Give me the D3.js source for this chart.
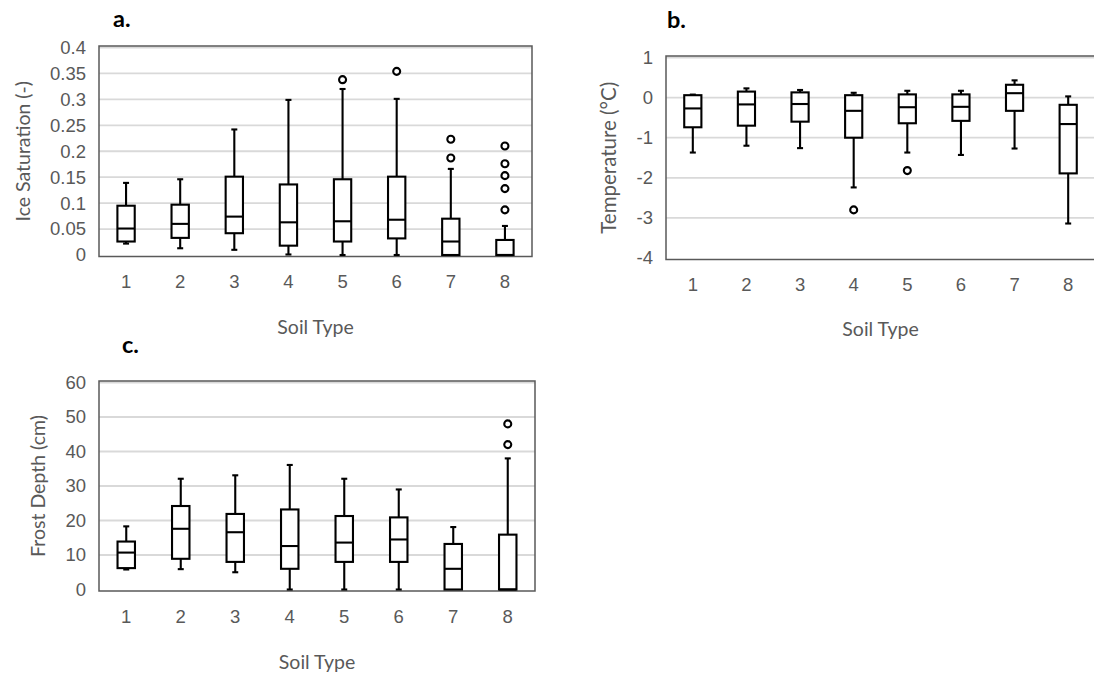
<!DOCTYPE html>
<html>
<head>
<meta charset="utf-8">
<script src="https://cdn.jsdelivr.net/npm/d3@7"></script>
<style>
  body { margin: 0; background: #fff; }
  svg { display: block; font-family: Lato, "Open Sans", sans-serif; }
</style>
</head>
<body>
<div id="chart"></div>
<script>
var soilTypes = ["1", "2", "3", "4", "5", "6", "7", "8"];

// a. ice saturation
var iceTicks = [0, 0.05, 0.1, 0.15, 0.2, 0.25, 0.3, 0.35, 0.4];
var iceMin = [0.022, 0.013, 0.010, 0.001, 0, 0, 0, 0];
var iceQ1  = [0.026, 0.033, 0.042, 0.018, 0.026, 0.032, 0, 0];
var iceMed = [0.051, 0.060, 0.074, 0.063, 0.065, 0.068, 0.026, 0];
var iceQ3  = [0.095, 0.097, 0.151, 0.136, 0.146, 0.151, 0.070, 0.029];
var iceMax = [0.139, 0.146, 0.242, 0.299, 0.320, 0.301, 0.166, 0.056];
var iceOut = [[], [], [], [], [0.338], [0.354], [0.223, 0.187], [0.210, 0.176, 0.153, 0.128, 0.087]];

// b. temperature
var tempTicks = [-4, -3, -2, -1, 0, 1];
var tempMin = [-1.37, -1.20, -1.26, -2.24, -1.37, -1.43, -1.27, -3.14];
var tempQ1  = [-0.74, -0.70, -0.60, -1.00, -0.64, -0.58, -0.33, -1.89];
var tempMed = [-0.27, -0.17, -0.16, -0.33, -0.24, -0.23, 0.11, -0.66];
var tempQ3  = [0.06, 0.15, 0.13, 0.06, 0.08, 0.08, 0.32, -0.18];
var tempMax = [0.075, 0.23, 0.19, 0.12, 0.17, 0.17, 0.43, 0.03];
var tempOut = [[], [], [], [-2.80], [-1.82], [], [], []];

// c. frost depth
var depthTicks = [0, 10, 20, 30, 40, 50, 60];
var depthMin = [5.8, 5.9, 5.0, 0, 0, 0, 0, 0];
var depthQ1  = [6.2, 8.9, 8.0, 6.0, 8.0, 8.0, 0, 0];
var depthMed = [10.7, 17.6, 16.6, 12.6, 13.6, 14.5, 6.0, 0];
var depthQ3  = [13.9, 24.2, 21.9, 23.2, 21.3, 20.9, 13.2, 15.9];
var depthMax = [18.3, 32.1, 33.1, 36.1, 32.1, 29.0, 18.1, 38.0];
var depthOut = [[], [], [], [], [], [], [], [48.0, 42.0]];

var textColor = "#595959";

var svg = d3.select("#chart")
            .append("svg")
              .attr("width", 1094)
              .attr("height", 674);

function drawPanel(p) {
  var x = d3.scaleBand()
            .domain(soilTypes)
            .range([p.left, p.right]);

  var y = d3.scaleLinear()
            .domain([p.ticks[0], p.ticks[p.ticks.length - 1]])
            .range([p.bottom, p.top]);

  var g = svg.append("g");

  // gridlines
  g.selectAll("line.grid")
   .data(p.ticks.slice(1))
   .enter()
     .append("line")
     .attr("class", "grid")
     .attr("x1", p.left)
     .attr("x2", p.right)
     .attr("y1", function(d) { return y(d); })
     .attr("y2", function(d) { return y(d); })
     .attr("stroke", "#d9d9d9")
     .attr("stroke-width", 1.8);

  // frame
  g.append("rect")
   .attr("x", p.left)
   .attr("y", p.top - 1.5)
   .attr("width", p.right - p.left)
   .attr("height", p.bottom - p.top + 3)
   .attr("fill", "none")
   .attr("stroke", "#595959")
   .attr("stroke-width", 1.5);

  var yAxis = d3.axisLeft(y)
                .tickValues(p.ticks)
                .tickSize(0)
                .tickPadding(13)
                .tickFormat(function(d) { return String(d); });

  var yg = g.append("g")
            .attr("transform", "translate(" + p.left + ",0)")
            .call(yAxis);
  yg.select(".domain").remove();
  yg.selectAll("text")
    .attr("fill", textColor)
    .style("font-size", "18.5px");

  var xAxis = d3.axisBottom(x).tickSize(0).tickPadding(20);
  var xg = g.append("g")
            .attr("transform", "translate(0," + p.bottom + ")")
            .call(xAxis);
  xg.select(".domain").remove();
  xg.selectAll("text")
    .attr("fill", textColor)
    .style("font-size", "18.5px");

  // axis titles
  g.append("text")
   .attr("x", (p.left + p.right) / 2)
   .attr("y", p.xTitleY)
   .attr("text-anchor", "middle")
   .attr("dominant-baseline", "central")
   .attr("fill", textColor)
   .style("font-size", "19.5px")
   .text("Soil Type");

  g.append("text")
   .attr("transform", "translate(" + p.yTitleX + "," + (p.top + p.bottom) / 2 + ") rotate(-90)")
   .attr("text-anchor", "middle")
   .attr("dominant-baseline", "central")
   .attr("fill", textColor)
   .style("font-size", p.yTitleSize + "px")
   .text(p.yTitle);

  g.append("text")
   .attr("x", p.labelX)
   .attr("y", p.labelY)
   .attr("fill", "#000")
   .style("font-size", "23.5px")
   .style("font-weight", "bold")
   .text(p.label);

  // boxes
  var boxW = x.bandwidth() * 0.32;
  var capW = 6;
  var rows = soilTypes.map(function(s, i) {
    return { s: s, lo: p.min[i], q1: p.q1[i], med: p.med[i], q3: p.q3[i], hi: p.max[i], out: p.out[i] };
  });

  var bg = g.selectAll("g.box")
            .data(rows)
            .enter()
              .append("g")
              .attr("class", "box")
              .attr("transform", function(d) { return "translate(" + (x(d.s) + x.bandwidth() / 2) + ",0)"; });

  // whiskers
  bg.filter(function(d) { return d.hi > d.q3; })
    .append("line")
    .attr("y1", function(d) { return y(d.q3); })
    .attr("y2", function(d) { return y(d.hi); });
  bg.filter(function(d) { return d.hi > d.q3; })
    .append("line")
    .attr("x1", -capW / 2).attr("x2", capW / 2)
    .attr("y1", function(d) { return y(d.hi); })
    .attr("y2", function(d) { return y(d.hi); });
  bg.filter(function(d) { return d.lo < d.q1; })
    .append("line")
    .attr("y1", function(d) { return y(d.q1); })
    .attr("y2", function(d) { return y(d.lo); });
  bg.filter(function(d) { return d.lo < d.q1; })
    .append("line")
    .attr("x1", -capW / 2).attr("x2", capW / 2)
    .attr("y1", function(d) { return y(d.lo); })
    .attr("y2", function(d) { return y(d.lo); });

  bg.append("rect")
    .attr("x", -boxW / 2)
    .attr("width", boxW)
    .attr("y", function(d) { return y(d.q3); })
    .attr("height", function(d) { return y(d.q1) - y(d.q3); })
    .attr("fill", "#fff");

  bg.append("line")
    .attr("x1", -boxW / 2).attr("x2", boxW / 2)
    .attr("y1", function(d) { return y(d.med); })
    .attr("y2", function(d) { return y(d.med); });

  bg.selectAll("circle")
    .data(function(d) { return d.out; })
    .enter()
      .append("circle")
      .attr("cy", function(d) { return y(d); })
      .attr("r", 3.5)
      .attr("fill", "#fff");

  bg.selectAll("line, rect, circle")
    .attr("stroke", "#000")
    .attr("stroke-width", 2.1);
}

drawPanel({
  label: "a.", labelX: 113, labelY: 27,
  left: 99, right: 532, top: 47.5, bottom: 255,
  ticks: iceTicks, yTitle: "Ice Saturation (-)", yTitleX: 22, yTitleSize: 19.5,
  xTitleY: 326,
  min: iceMin, q1: iceQ1, med: iceMed, q3: iceQ3, max: iceMax, out: iceOut
});

drawPanel({
  label: "b.", labelX: 667, labelY: 28,
  left: 666, right: 1095, top: 57.5, bottom: 258,
  ticks: tempTicks, yTitle: "Temperature (°C)", yTitleX: 608, yTitleSize: 20.5,
  xTitleY: 328,
  min: tempMin, q1: tempQ1, med: tempMed, q3: tempQ3, max: tempMax, out: tempOut
});

drawPanel({
  label: "c.", labelX: 122, labelY: 353,
  left: 99, right: 535, top: 382.5, bottom: 589.5,
  ticks: depthTicks, yTitle: "Frost Depth (cm)", yTitleX: 37, yTitleSize: 19.5,
  xTitleY: 661,
  min: depthMin, q1: depthQ1, med: depthMed, q3: depthQ3, max: depthMax, out: depthOut
});
</script>
</body>
</html>
